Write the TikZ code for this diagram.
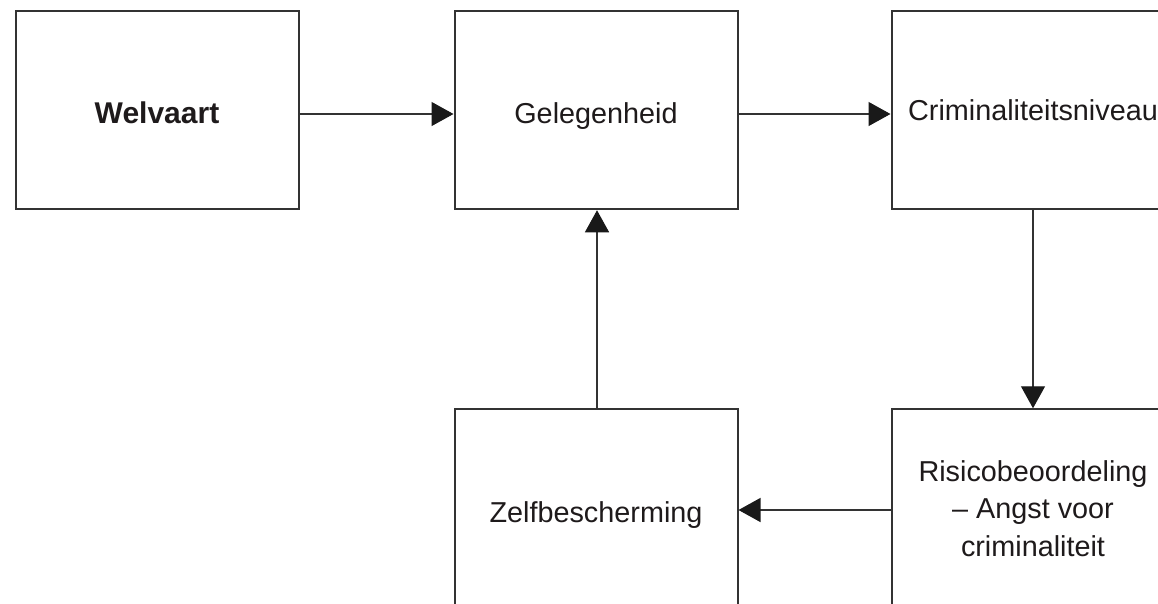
\documentclass[tikz,border=0pt]{standalone}
\usepackage{fontspec}
\setmainfont{Liberation Sans}
\usetikzlibrary{arrows.meta}
\definecolor{linec}{HTML}{333333}
\definecolor{textc}{HTML}{1E1A1B}
\begin{document}
\begin{tikzpicture}[x=1pt,y=-1pt,
  boxnode/.style={draw=linec,line width=2pt,minimum width=283pt,minimum height=198.5pt,
    inner sep=0pt,align=center,text=textc,font=\fontsize{28.8}{37.5}\selectfont},
  boxtext/.style={inner sep=0pt,align=center,text=textc,font=\fontsize{28.8}{37.5}\selectfont},
  conn/.style={draw=linec,line width=1.3pt,-{Triangle[width=24pt,length=22pt,fill=black!90,color=black!90]}}]
\clip (0,0) rectangle (1158,603);
\fill[white] (0,0) rectangle (1158,603);
\node[boxnode,label={[boxtext,yshift=-3pt,font=\fontsize{30}{37.5}\selectfont\bfseries]center:Welvaart}] (w) at (157,110) {};
\node[boxnode,label={[boxtext,yshift=-6pt]center:Gelegenheid}] (g) at (596,110) {};
\node[boxnode] (c) at (1033,110) {Criminaliteitsniveau};
\node[boxnode,label={[boxtext,yshift=-7pt]center:Zelfbescherming}] (z) at (596,508.5) {};
\node[boxnode] (r) at (1033,508.5) {Risicobeoordeling\\ -- Angst voor\\ criminaliteit};
\draw[conn] ([yshift=-4pt]w.east) -- ([yshift=-4pt]g.west);
\draw[conn] ([yshift=-4pt]g.east) -- ([yshift=-4pt]c.west);
\draw[conn] (c.south) -- (r.north);
\draw[conn] ([xshift=1pt]z.north) -- ([xshift=1pt]g.south);
\draw[conn] ([yshift=-1.5pt]r.west) -- ([yshift=-1.5pt]z.east);
\end{tikzpicture}
\end{document}
